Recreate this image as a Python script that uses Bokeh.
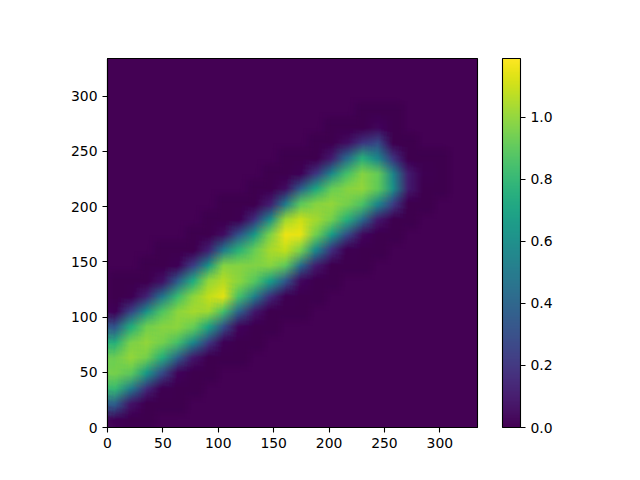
from bokeh.embed import file_html
from bokeh.resources import INLINE
from bokeh.plotting import figure
from bokeh.models import LinearColorMapper, ColorBar, FixedTicker, PrintfTickFormatter
from bokeh.palettes import Viridis256
import numpy as np

EXTENT = 334
VMIN = 0.0
VMAX = 1.19
X_TICKS = [0, 50, 100, 150, 200, 250, 300]
Y_TICKS = [0, 50, 100, 150, 200, 250, 300]
CB_TICKS = [0.0, 0.2, 0.4, 0.6, 0.8, 1.0]

# Values, one row per 1/24 of the axis, bottom row first
row_00 = [.03]+[0]*23
row_01 = [.37,.08]+[0]*22
row_02 = [.81,.51,.17,.01]+[0]*20
row_03 = [.95,.90,.65,.29,.04]+[0]*19
row_04 = [.93,1.0,.95,.76,.39,.10]+[0]*18
row_05 = [.76,.96,1.0,.95,.85,.57,.22,.02]+[0]*16
row_06 = [.34,.75,.94,.98,.99,.92,.70,.31,.04]+[0]*15
row_07 = [.02,.26,.62,.87,.99,1.03,1.02,.85,.39,.10]+[0]*14
row_08 = [0,.01,.14,.48,.82,.99,1.08,1.14,.85,.53,.18,.01]+[0]*12
row_09 = [0,0,0,.07,.36,.74,1.0,1.06,.99,.89,.67,.34,.05]+[0]*11
row_10 = [0,0,0,0,.02,.24,.63,.98,.98,.97,.98,.90,.44,.11]+[0]*10
row_11 = [0,0,0,0,0,0,.13,.50,.78,.92,1.03,1.08,.96,.57,.19,.01]+[0]*8
row_12 = [0,0,0,0,0,0,0,.06,.33,.66,.96,1.16,1.15,.94,.67,.29,.05]+[0]*7
row_13 = [0,0,0,0,0,0,0,0,.01,.19,.60,1.02,1.10,1.03,.95,.76,.43,.10]+[0]*6
row_14 = [0,0,0,0,0,0,0,0,0,0,.12,.50,.90,.98,1.0,.95,.86,.55,.23]+[0]*5
row_15 = [0,0,0,0,0,0,0,0,0,0,0,.06,.37,.72,.92,.98,1.0,.91,.61,.12]+[0]*4
row_16 = [0,0,0,0,0,0,0,0,0,0,0,0,.02,.21,.57,.85,.98,.92,.55,.12,.01]+[0]*3
row_17 = [0,0,0,0,0,0,0,0,0,0,0,0,0,0,.11,.42,.77,.57,.20]+[0]*5
row_18 = [0]*15+[.06,.20,.28]+[0]*6
row_19 = [0]*17+[.04]+[0]*6
row_20 = [0]*24
row_21 = [0]*24
row_22 = [0]*24
row_23 = [0]*24
ROWS = [row_00,row_01,row_02,row_03,row_04,row_05,row_06,row_07,row_08,row_09,row_10,row_11,
        row_12,row_13,row_14,row_15,row_16,row_17,row_18,row_19,row_20,row_21,row_22,row_23]

mapper = LinearColorMapper(palette=Viridis256, low=VMIN, high=VMAX, nan_color="rgba(0,0,0,0)")

p = figure(width=624, height=464, frame_width=370, frame_height=369,
           x_range=(0, EXTENT), y_range=(0, EXTENT),
           toolbar_location=None, output_backend="svg",
           min_border_left=107, min_border_top=58, min_border_right=155, min_border_bottom=37,
           background_fill_color=Viridis256[0], border_fill_color="white")
p.grid.visible = False

# The same grid is drawn several times at sub-cell shifts and averaged by alpha,
# which softens the cell edges on screen as imshow's display interpolation does.
# Zero cells away from the band are left to the background, which has the colour of zero.
values = np.array(ROWS, dtype=float)
grid = values.copy()
for i in range(len(ROWS)):
    for j in range(len(ROWS[0])):
        near = values[max(i - 1, 0):i + 2, max(j - 1, 0):j + 2]
        if near.max() == 0:
            grid[i, j] = np.nan
cell = EXTENT / len(ROWS)
N = 16
for k in range(N):
    sx = ((k + 0.5) / N - 0.5) * cell
    sy = ((((5 * k) % N) + 0.5) / N - 0.5) * cell
    p.image(image=[grid], x=sx, y=sy, dw=EXTENT, dh=EXTENT, color_mapper=mapper,
            global_alpha=1.0 / (k + 1))

p.outline_line_color = "black"
p.outline_line_width = 1.1
for ax, ticks in ((p.xaxis[0], X_TICKS), (p.yaxis[0], Y_TICKS)):
    ax.ticker = FixedTicker(ticks=ticks)
    ax.major_tick_in = 0
    ax.major_tick_out = 5
    ax.major_tick_line_width = 1.1
    ax.minor_tick_line_color = None
    ax.axis_line_width = 1.1
    ax.major_label_text_font = "DejaVu Sans"
    ax.major_label_text_font_size = "13.9px"
    ax.major_label_text_color = "black"
    ax.major_label_standoff = 5
p.yaxis[0].major_label_orientation = "horizontal"

cb = ColorBar(color_mapper=mapper, width=18, height=369, padding=0, margin=0,
              ticker=FixedTicker(ticks=CB_TICKS), formatter=PrintfTickFormatter(format="%.1f"),
              bar_line_color="black", bar_line_width=1.1,
              major_tick_in=0, major_tick_out=5, major_tick_line_color="black",
              major_tick_line_width=1.1, minor_tick_line_color=None,
              major_label_text_font="DejaVu Sans", major_label_text_font_size="13.9px",
              major_label_text_color="black", label_standoff=5,
              location=(25, 0), background_fill_color=None, border_line_color=None)
p.add_layout(cb, "right")

open("out.html", "w").write(file_html(p, INLINE))
